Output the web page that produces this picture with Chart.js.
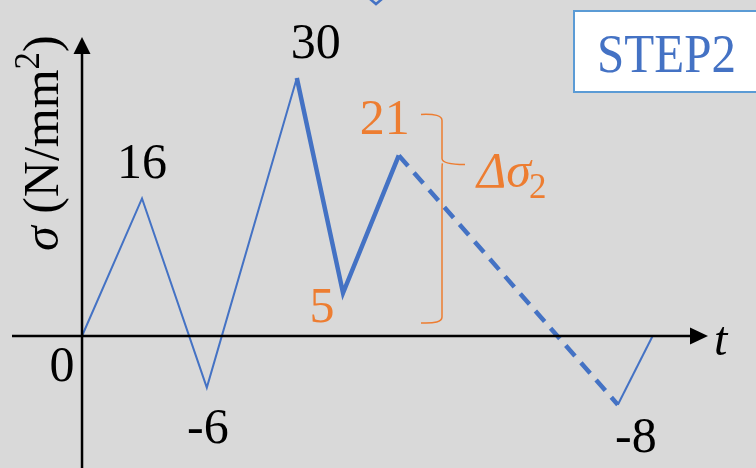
<!DOCTYPE html>
<html>
<head>
<meta charset="utf-8">
<script src="https://cdn.jsdelivr.net/npm/chart.js@4.4.1/dist/chart.umd.min.js"></script>
<style>
  html, body { margin: 0; padding: 0; background: #d9d9d9; }
  #wrap { width: 756px; height: 468px; position: relative; }
</style>
</head>
<body>
<div id="wrap"><canvas id="stressChart" width="756" height="468"></canvas></div>
<script>
// stress history, STEP2
const times = [0, 1.0, 2.08, 3.58, 4.35, 5.28, 8.93, 9.51];
const stress = [0, 16, -6, 30, 5, 21, -8, 0];
const valueLabels = ['0', '16', '-6', '30', '5', '21', '-8', null];
// label offsets from each point (px)
const labelOffsets = [[-20, 32], [0, -34], [1, 42], [19, -33], [-21, 16], [-14, -35], [18, 34], [0, 0]];

const lineBlue = '#4472c4';
const orange = '#ed7d31';
const serif = '"Liberation Serif", "Times New Roman", serif';

// segment index ranges: 3,4 thick solid, 5 thick dashed, the rest thin
const thickFrom = 3, thickTo = 5, dashedSeg = 5;

const drawArrowAxes = {
    id: 'drawArrowAxes',
    afterDatasetsDraw(chart) {
        const ctx = chart.ctx;
        const xs = chart.scales.x, ys = chart.scales.y;
        const x0 = xs.getPixelForValue(0);
        const y0 = ys.getPixelForValue(0);
        ctx.save();
        ctx.strokeStyle = '#000';
        ctx.fillStyle = '#000';
        ctx.lineWidth = 2.5;
        // horizontal axis
        ctx.beginPath();
        ctx.moveTo(12, y0);
        ctx.lineTo(694, y0);
        ctx.stroke();
        ctx.beginPath();
        ctx.moveTo(708, y0);
        ctx.lineTo(690, y0 - 8.5);
        ctx.lineTo(690, y0 + 8.5);
        ctx.closePath();
        ctx.fill();
        // vertical axis
        ctx.beginPath();
        ctx.moveTo(x0, 468);
        ctx.lineTo(x0, 50);
        ctx.stroke();
        ctx.beginPath();
        ctx.moveTo(x0, 37);
        ctx.lineTo(x0 - 8.5, 54);
        ctx.lineTo(x0 + 8.5, 54);
        ctx.closePath();
        ctx.fill();

        // axis titles
        ctx.font = 'italic 48px ' + serif;
        ctx.textBaseline = 'alphabetic';
        ctx.fillText('t', 714, y0 + 19);

        ctx.save();
        ctx.translate(58, 251);
        ctx.rotate(-Math.PI / 2);
        let px = 0;
        ctx.font = 'italic 50px ' + serif;
        ctx.fillText('σ', px, 0);
        px += ctx.measureText('σ').width;
        ctx.font = '50px ' + serif;
        ctx.fillText(' (N/mm', px, 0);
        px += ctx.measureText(' (N/mm').width;
        ctx.font = '35px ' + serif;
        ctx.fillText('2', px, -19);
        px += ctx.measureText('2').width;
        ctx.font = '50px ' + serif;
        ctx.fillText(')', px, 0);
        ctx.restore();

        // value labels at the turning points
        ctx.font = '50px ' + serif;
        ctx.textAlign = 'center';
        ctx.textBaseline = 'middle';
        valueLabels.forEach((txt, i) => {
            if (txt === null) return;
            const px = xs.getPixelForValue(times[i]) + labelOffsets[i][0];
            const py = ys.getPixelForValue(stress[i]) + labelOffsets[i][1];
            ctx.fillStyle = (i === 4 || i === 5) ? orange : '#000';
            ctx.fillText(txt, px, py);
        });

        // brace for the stress range of the thick part
        const yTop = ys.getPixelForValue(stress[5]) - 41;
        const yBot = ys.getPixelForValue(stress[4]) + 30;
        const yMid = ys.getPixelForValue(stress[5]) + 9;
        const bx = 442;
        ctx.strokeStyle = orange;
        ctx.lineWidth = 1.5;
        ctx.beginPath();
        ctx.moveTo(421, yTop);
        ctx.quadraticCurveTo(bx, yTop - 1, bx, yTop + 6);
        ctx.lineTo(bx, yMid - 6);
        ctx.quadraticCurveTo(bx, yMid, 465, yMid);
        ctx.moveTo(bx + 0.5, yMid - 1);
        ctx.quadraticCurveTo(bx, yMid, bx, yMid + 6);
        ctx.lineTo(bx, yBot - 6);
        ctx.quadraticCurveTo(bx, yBot + 1, 421, yBot);
        ctx.stroke();

        ctx.fillStyle = orange;
        ctx.textAlign = 'left';
        ctx.textBaseline = 'alphabetic';
        ctx.font = 'italic 50px ' + serif;
        ctx.fillText('Δσ', 477, 187);
        const dw = ctx.measureText('Δσ').width;
        ctx.font = '35px ' + serif;
        ctx.fillText('2', 477 + dw - 2, 198);

        // step tag
        ctx.fillStyle = '#fff';
        ctx.fillRect(573, 10, 190, 82);
        ctx.strokeStyle = '#5b9bd5';
        ctx.lineWidth = 2;
        ctx.strokeRect(574, 11, 190, 81);
        ctx.save();
        ctx.fillStyle = lineBlue;
        ctx.font = '55px ' + serif;
        const sw = ctx.measureText('STEP2').width;
        ctx.translate(597, 72);
        ctx.scale(139 / sw, 1);
        ctx.fillText('STEP2', 0, 0);
        ctx.restore();

        // small chevron at the top edge
        ctx.strokeStyle = lineBlue;
        ctx.lineWidth = 2.5;
        ctx.beginPath();
        ctx.moveTo(370, -1);
        ctx.lineTo(376, 4);
        ctx.lineTo(382, -1);
        ctx.stroke();
        ctx.restore();
    }
};

const ctx = document.getElementById('stressChart').getContext('2d');
new Chart(ctx, {
    type: 'line',
    data: {
        datasets: [{
            data: times.map((t, i) => ({ x: t, y: stress[i] })),
            borderColor: lineBlue,
            borderWidth: 2,
            pointRadius: 0,
            tension: 0,
            fill: false,
            segment: {
                borderWidth: c => (c.p0DataIndex >= thickFrom && c.p0DataIndex <= thickTo) ? 4.5 : 2,
                borderDash: c => c.p0DataIndex === dashedSeg ? [14, 9] : []
            }
        }]
    },
    options: {
        responsive: false,
        animation: false,
        events: [],
        layout: { padding: 0 },
        plugins: { legend: { display: false }, tooltip: { enabled: false } },
        scales: {
            x: { type: 'linear', display: false, min: -1.367, max: 11.233 },
            y: { type: 'linear', display: false, min: -15.35, max: 39.07 }
        }
    },
    plugins: [drawArrowAxes]
});
</script>
</body>
</html>
